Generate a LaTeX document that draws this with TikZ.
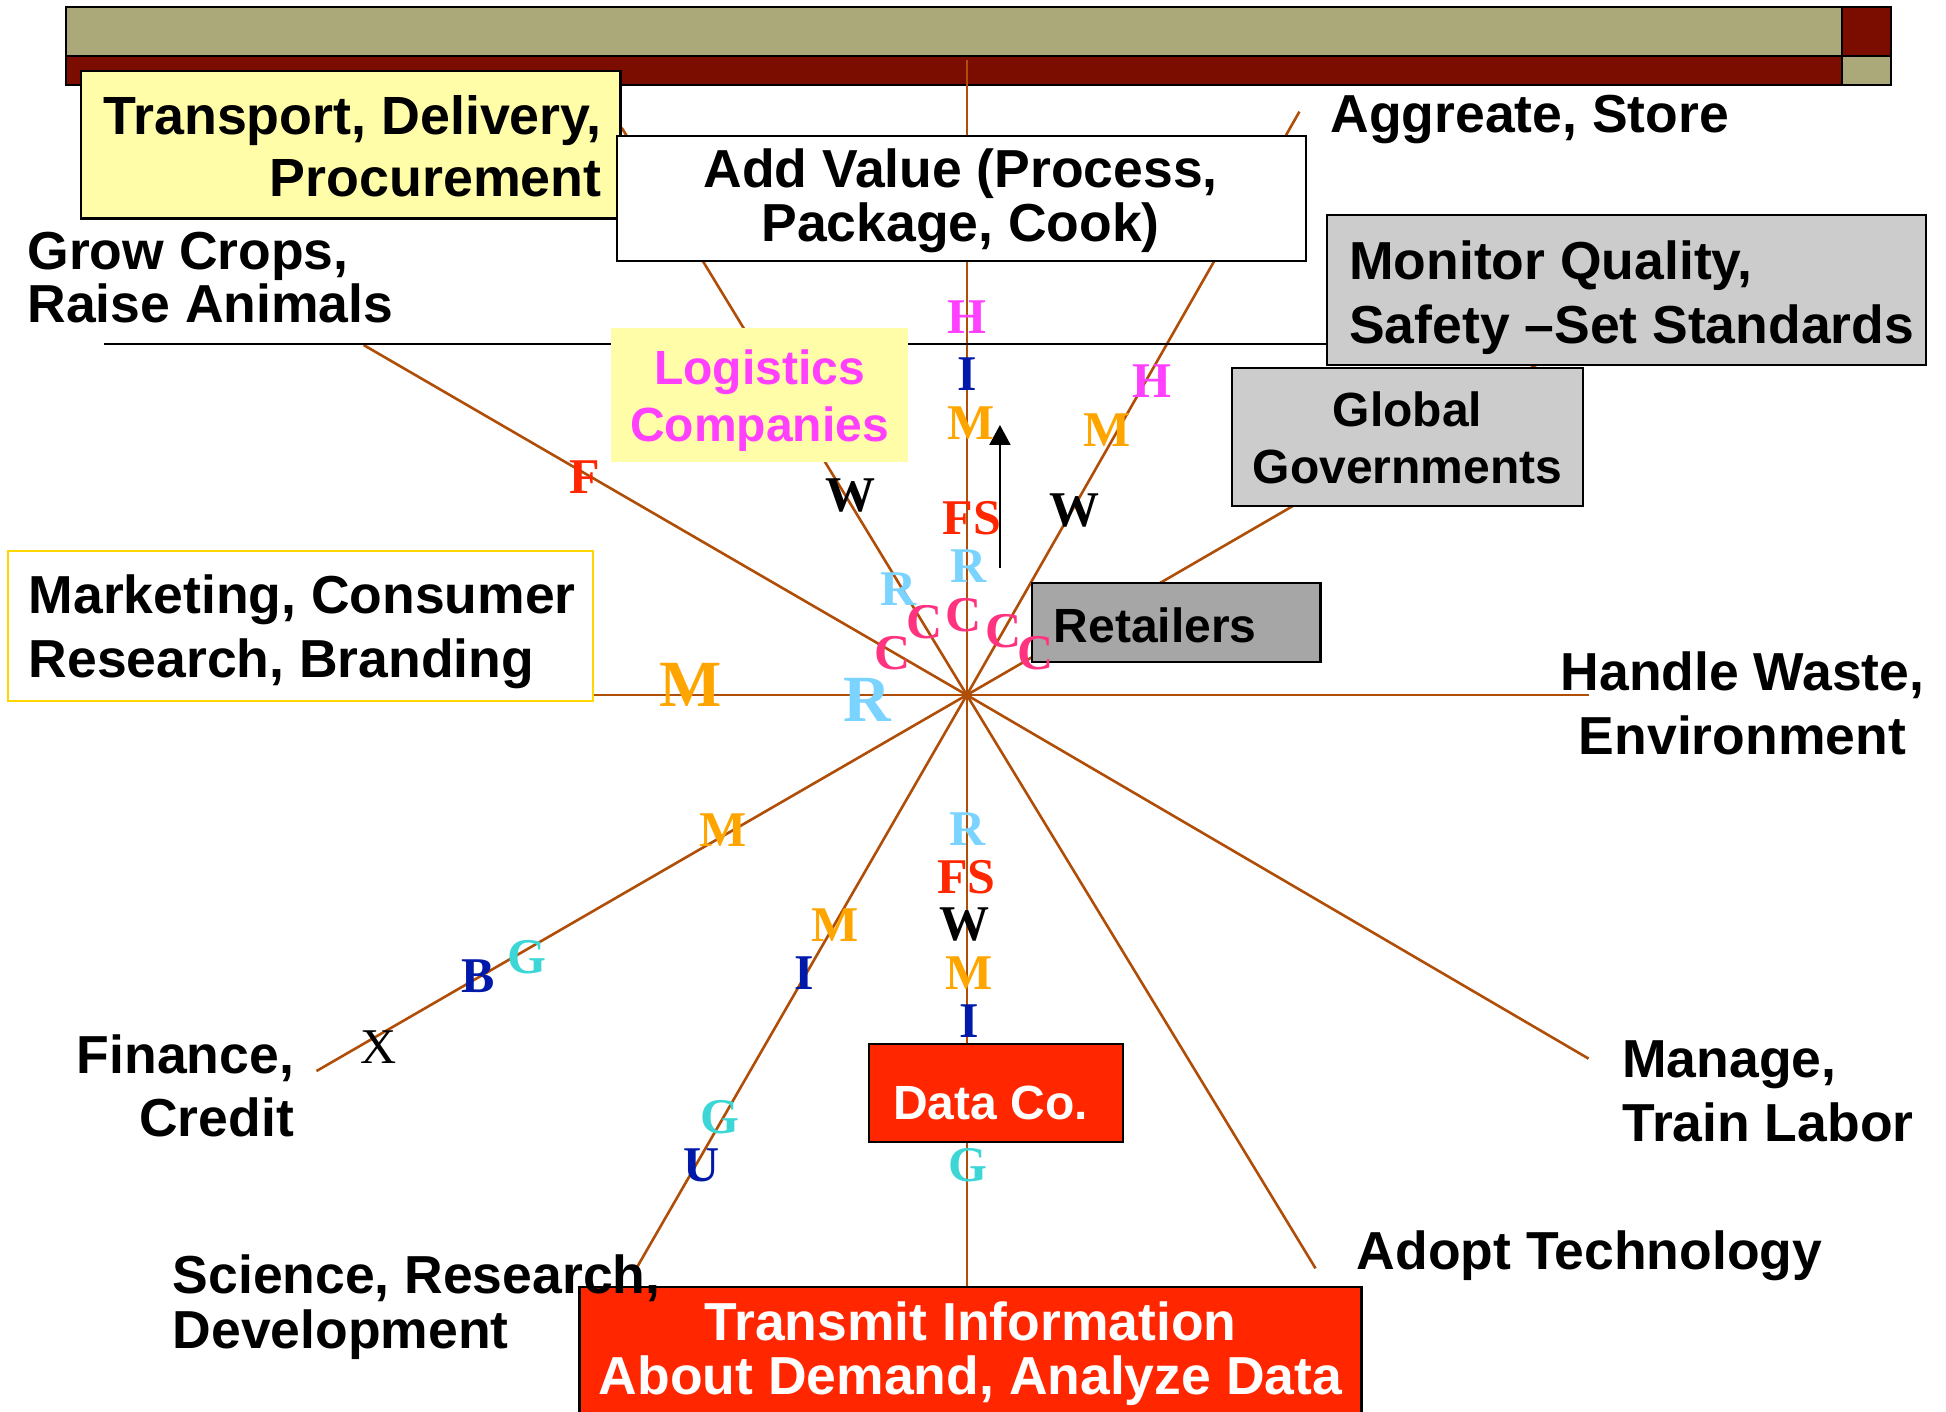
\documentclass[tikz,border=0pt]{standalone}
\usepackage{fontspec}
\setmainfont{Liberation Serif}
\setsansfont{Liberation Sans}
\usetikzlibrary{arrows.meta,fit}
\definecolor{olivebar}{RGB}{171,169,122}
\definecolor{redbar}{RGB}{123,12,0}
\definecolor{spoke}{RGB}{176,78,8}
\definecolor{boxyellow}{RGB}{255,253,168}
\definecolor{boxgray}{RGB}{204,204,204}
\definecolor{retgray}{RGB}{166,166,166}
\definecolor{boxred}{RGB}{255,38,0}
\definecolor{mkyellow}{RGB}{255,214,0}
\definecolor{lmag}{RGB}{255,64,255}
\definecolor{lblue}{RGB}{0,25,168}
\definecolor{lorange}{RGB}{255,165,0}
\definecolor{lred}{RGB}{255,38,0}
\definecolor{lsky}{RGB}{122,212,255}
\definecolor{lpink}{RGB}{255,51,128}
\definecolor{lcyan}{RGB}{60,214,214}
\newcommand\tpst{\rule{0pt}{40pt}}
\begin{document}
\begin{tikzpicture}[x=1.2411pt,y=-1.2411pt,
  spk/.style={draw=spoke,line width=2.6pt},
  bx/.style={inner sep=0pt,line width=2.2pt},
  lab/.style n args={2}{inner sep=0pt,font=\sffamily\bfseries\fontsize{#1}{#2}\selectfont},
  lt/.style={inner sep=0pt,anchor=base,font=\rmfamily\bfseries\fontsize{50}{50}\selectfont},
  bigl/.style={inner sep=0pt,anchor=base,font=\rmfamily\bfseries\fontsize{66}{66}\selectfont},
]
\useasboundingbox (0,0) rectangle (1568,1137);
\clip (0,0) rectangle (1568,1137);

% top bar
\node[bx,line width=2.5pt,draw,fill=olivebar,fit={(53,5.6) (1484,45.1)}] (barTop) {};
\node[bx,line width=2.5pt,draw,fill=redbar,fit={(53,45.1) (1484,68.5)}] (barBot) {};
\node[bx,line width=2.5pt,draw,fill=redbar,fit={(1484,5.6) (1523.6,45.1)}] (sqTop) {};
\node[bx,line width=2.5pt,draw,fill=olivebar,fit={(1484,45.1) (1523.6,68.5)}] (sqBot) {};

% spokes
\coordinate (hub) at (779,560);
\coordinate (eUp) at (779,48);
\coordinate (eDown) at (779,1037);
\coordinate (eLeft) at (478,560);
\coordinate (eRight) at (1280,560);
\coordinate (eGrow) at (293,278);
\coordinate (eTrans) at (501,103);
\coordinate (eAggr) at (1047,90);
\coordinate (eGov) at (1300,258);
\coordinate (eFin) at (255,863);
\coordinate (eSci) at (511,1025);
\coordinate (eTech) at (1060,1022);
\coordinate (eLab) at (1280,853);
\foreach \e in {eUp,eDown,eLeft,eRight,eGrow,eTrans,eAggr,eGov,eFin,eSci,eTech,eLab}
  \draw[spk] (hub) -- (\e);

% black horizontal line
\coordinate (hlA) at (84,277);
\coordinate (hlB) at (1100,277);
\draw[line width=2.2pt] (hlA) -- (hlB);

% arrow
\coordinate (arA) at (805.7,457.9);
\coordinate (arB) at (805.7,342.4);
\draw[line width=2.2pt,-{Triangle[width=21pt,length=20pt]}] (arA) -- (arB);

% boxes
\node[bx,draw,fill=boxyellow,fit={(65,57) (500,176)}] (bTrans) {};
\node[bx,draw,fill=white,fit={(497,109.6) (1052,210)}] (bValue) {};
\node[bx,draw,fill=boxgray,fit={(1069,173.2) (1552,294)}] (bMon) {};
\node[bx,draw,fill=boxgray,fit={(992.4,296.8) (1275.2,407.4)}] (bGov) {};
\node[bx,draw,fill=retgray,fit={(831.3,470) (1064,533.7)}] (bRet) {};
\node[bx,fill=boxyellow,fit={(492.6,264) (731.5,372)}] (bLog) {};
\node[bx,draw=mkyellow,fill=white,fit={(6.4,444) (478,564.6)}] (bMkt) {};
\node[bx,draw,fill=boxred,fit={(700,841) (905,920)}] (bData) {};
\node[bx,draw,fill=boxred,fit={(467,1037) (1097,1150)}] (bInfo) {};

% labels
\node[lab={53.8}{62},align=right,anchor=north east] (tTrans) at (485,75.8) {\tpst Transport, Delivery,\\Procurement};
\node[lab={53.5}{53.4},align=center,anchor=north] (tValue) at (774,118.8) {\tpst Add Value (Process,\\Package, Cook)};
\node[lab={53.5}{64.5},align=left,anchor=north west] (tMon) at (1087,192.8) {\tpst Monitor Quality,\\Safety \textendash Set Standards};
\node[lab={48}{56.6},align=center,anchor=north] (tGov) at (1134,311.6) {\tpst Global\\Governments};
\node[lab={48}{48},anchor=base west] (tRet) at (849,517.5) {Retailers};
\node[lab={48}{57},align=center,anchor=north,text=lmag] (tLog) at (612,277.8) {\tpst Logistics\\Companies};
\node[lab={53.5}{64},align=left,anchor=north west] (tMkt) at (23,462) {\tpst Marketing, Consumer\\Research, Branding};
\node[lab={48}{48},anchor=base,text=white] (tData) at (798,902) {Data Co.};
\node[lab={53.5}{54.4},align=center,anchor=north,text=white] (tInfo) at (782,1047.5) {\tpst Transmit Information\\About Demand, Analyze Data};
\node[lab={53.5}{53},anchor=base west] (tAggr) at (1072,107) {Aggreate, Store};
\node[lab={53.5}{53.4},align=left,anchor=north west] (tGrow) at (22,184.8) {\tpst Grow Crops,\\Raise Animals};
\node[lab={53.5}{64},align=center,anchor=north] (tWaste) at (1404,523.8) {\tpst Handle Waste,\\Environment};
\node[lab={53.5}{63},align=right,anchor=north east] (tFin) at (237,832.8) {\tpst Finance,\\Credit};
\node[lab={53.5}{64},align=left,anchor=north west] (tLab) at (1307,835.8) {\tpst Manage,\\Train Labor};
\node[lab={53.5}{55},align=left,anchor=north west] (tSci) at (139,1009.8) {\tpst Science, Research,\\Development};
\node[lab={53.5}{53},anchor=base west] (tTech) at (1093,1023) {Adopt Technology};

% letters: vertical up
\node[lt,text=lmag] (u1) at (778.9,268.6) {H};
\node[lt,text=lblue] (u2) at (779.4,314.8) {I};
\node[lt,text=lorange] (u3) at (782.1,354) {M};
\node[lt,text=lred] (u4) at (783.2,431) {FS};
\node[lt,text=lsky] (u5) at (780.5,469.5) {R};
\node[lt,text=lpink] (u6) at (776.2,509) {C};
% left steep spoke
\node[lt,text=black] (s1) at (685.4,412.3) {W};
\node[lt,text=lsky] (s2) at (723.8,487.5) {R};
\node[lt,text=lpink] (s3) at (745,514.3) {C};
% grow spoke
\node[lt,text=lpink] (g1) at (719,539.8) {C};
\node[lt,text=lred] (g2) at (471.4,397.5) {F};
% right spoke
\node[lt,text=lmag] (r1) at (928,320) {H};
\node[lt,text=lorange] (r2) at (892,360) {M};
\node[lt,text=black] (r3) at (865.4,424.4) {W};
\node[lt,text=lpink] (r4) at (809,521.6) {C};
\node[lt,text=lpink] (r5) at (834.5,539.8) {C};
% left horizontal
\node[bigl,text=lorange] (h1) at (556.5,568.9) {M};
\node[bigl,text=lsky] (h2) at (698.6,581.5) {R};
% finance spoke
\node[lt,text=lorange] (f1) at (582.7,681.7) {M};
\node[lt,text=lcyan] (f2) at (424.6,784.3) {G};
\node[lt,text=lblue] (f3) at (384.9,799.6) {B};
\node[inner sep=0pt,anchor=base,font=\rmfamily\fontsize{50}{50}\selectfont] (f4) at (305.4,856.8) {X};
% science spoke
\node[lt,text=lorange] (c1) at (672.5,758.7) {M};
\node[lt,text=lblue] (c2) at (648,797.1) {I};
\node[lt,text=lcyan] (c3) at (580.1,913.2) {G};
\node[lt,text=lblue] (c4) at (565.4,952) {U};
% vertical down
\node[lt,text=lsky] (d1) at (779.2,681.4) {R};
\node[lt,text=lred] (d2) at (778.6,719.8) {FS};
\node[lt,text=black] (d3) at (777,758) {W};
\node[lt,text=lorange] (d4) at (780.5,797.1) {M};
\node[lt,text=lblue] (d5) at (780.8,835.8) {I};
\node[lt,text=lcyan] (d6) at (780.2,952) {G};
\end{tikzpicture}
\end{document}
